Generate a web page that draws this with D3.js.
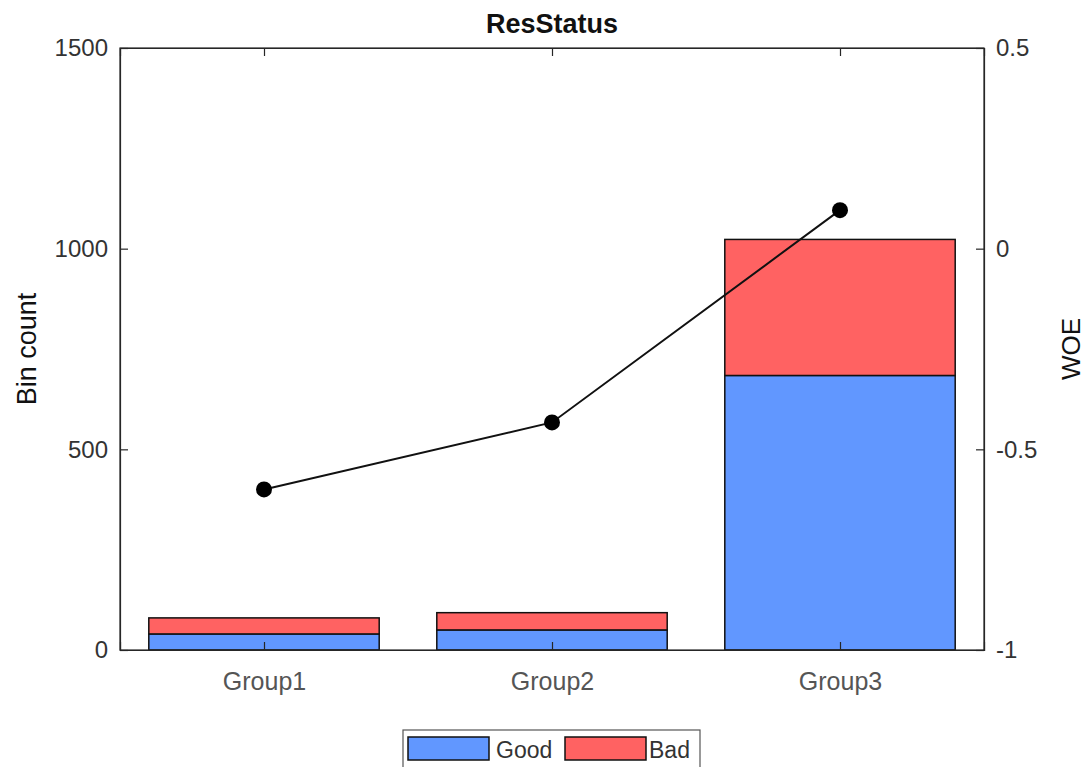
<!DOCTYPE html>
<html><head><meta charset="utf-8">
<script src="https://cdn.jsdelivr.net/npm/d3@7"></script>
<style>body{margin:0;background:#fff}svg{display:block}text{font-family:"Liberation Sans",Arial,sans-serif}</style>
</head><body><svg id="c" width="1086" height="767"></svg>
<script>
const categories = ["Group1","Group2","Group3"];
const goodCounts = [40, 50, 684];
const badCounts = [40, 43, 339];
const woeValues = [-0.6, -0.433, 0.096];
const leftTicks = [0, 500, 1000, 1500];
const rightTicks = [-1, -0.5, 0, 0.5];
const seriesNames = ["Good","Bad"];
const seriesColors = ["#6197ff","#ff6262"];

const svg = d3.select("#c");
const L = 120, R = 984, T = 48, B = 650;
const axisCol = "#262626";
const x = d3.scaleLinear().domain([0.5, 3.5]).range([L, R]);
const yL = d3.scaleLinear().domain([0, 1500]).range([B, T]);
const yR = d3.scaleLinear().domain([-1, 0.5]).range([B, T]);
const bw = (x(1.4) - x(0.6));

// bars
const stackData = categories.map((c,i)=>({cat:c, i:i, Good:goodCounts[i], Bad:badCounts[i]}));
const stacked = d3.stack().keys(seriesNames)(stackData);
stacked.forEach((layer, k) => {
  svg.append("g").selectAll("rect").data(layer).join("rect")
    .attr("x", d => x(d.data.i + 1) - bw/2)
    .attr("width", bw)
    .attr("y", d => yL(d[1]))
    .attr("height", d => yL(d[0]) - yL(d[1]))
    .attr("fill", seriesColors[k])
    .attr("stroke", "#111").attr("stroke-width", 1.5);
});

// box / axes
svg.append("rect").attr("x", L).attr("y", T).attr("width", R-L).attr("height", B-T)
  .attr("fill","none").attr("stroke", axisCol).attr("stroke-width", 1.2);

const gL = svg.append("g").attr("transform", `translate(${L},0)`)
  .call(d3.axisLeft(yL).tickValues(leftTicks).tickSize(-8).tickPadding(12).tickFormat(d3.format("d")));
const gR = svg.append("g").attr("transform", `translate(${R},0)`)
  .call(d3.axisRight(yR).tickValues(rightTicks).tickSize(-8).tickPadding(12).tickFormat(d=>String(d)));
const gB = svg.append("g").attr("transform", `translate(0,${B})`)
  .call(d3.axisBottom(x).tickValues([1,2,3]).tickSize(-8).tickPadding(22).tickFormat((d)=>categories[d-1]));
const gT = svg.append("g").attr("transform", `translate(0,${T})`)
  .call(d3.axisTop(x).tickValues([1,2,3]).tickSize(-8).tickFormat(""));
[gL,gR,gB,gT].forEach(g=>{
  g.select(".domain").attr("stroke", axisCol).attr("stroke-width",1.2);
  g.selectAll(".tick line").attr("stroke", axisCol).attr("stroke-width",1.2);
  g.selectAll(".tick text").attr("fill","#333").style("font-size","24px");
});
gB.selectAll(".tick text").attr("fill","#555").style("font-size","25px");

// WOE line
const line = d3.line().x((d,i)=>x(i+1)).y(d=>yR(d));
svg.append("path").datum(woeValues).attr("d", line).attr("fill","none")
  .attr("stroke","#111").attr("stroke-width",2);
svg.append("g").selectAll("circle").data(woeValues).join("circle")
  .attr("cx",(d,i)=>x(i+1)).attr("cy",d=>yR(d)).attr("r",8).attr("fill","#000");

// titles
svg.append("text").attr("x",(L+R)/2).attr("y",33).attr("text-anchor","middle")
  .style("font-size","27px").style("font-weight","bold").attr("fill","#111").text("ResStatus");
svg.append("text").attr("transform",`translate(36,${(T+B)/2}) rotate(-90)`).attr("text-anchor","middle")
  .style("font-size","27px").attr("fill","#111").text("Bin count");
svg.append("text").attr("transform",`translate(1080,${(T+B)/2}) rotate(-90)`).attr("text-anchor","middle")
  .style("font-size","26px").attr("fill","#111").text("WOE");

// legend
const lg = svg.append("g");
lg.append("rect").attr("x",403).attr("y",730).attr("width",297).attr("height",50)
  .attr("fill","#fff").attr("stroke","#555").attr("stroke-width",1.2);
const items = [{x:408, tx:496}, {x:565, tx:649}];
seriesNames.forEach((n,k)=>{
  lg.append("rect").attr("x",items[k].x).attr("y",737).attr("width",81).attr("height",23)
    .attr("fill",seriesColors[k]).attr("stroke","#111").attr("stroke-width",1.5);
  lg.append("text").attr("x",items[k].tx).attr("y",758).style("font-size","23px").attr("fill","#333").text(n);
});
</script></body></html>
